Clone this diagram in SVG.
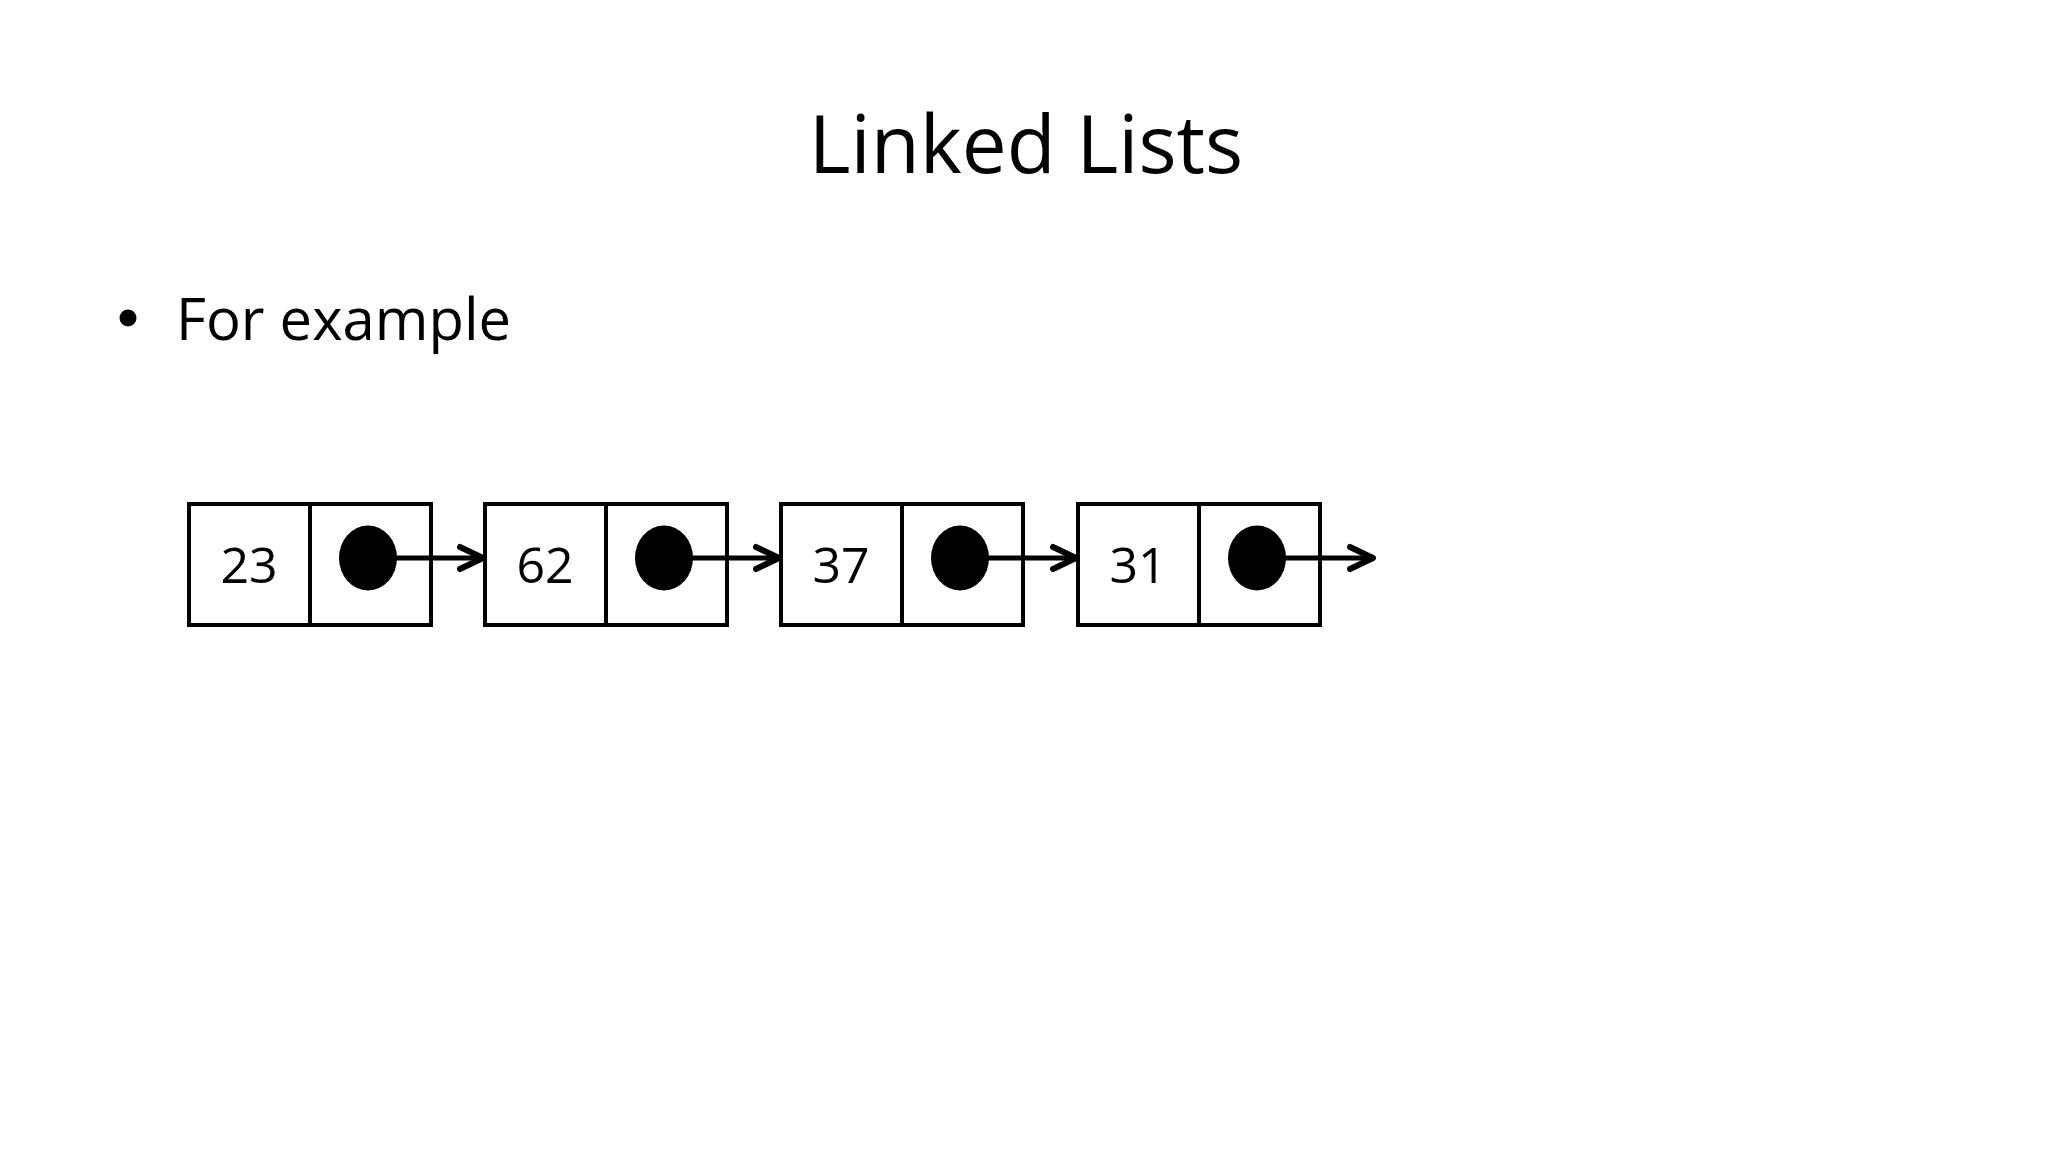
<svg xmlns="http://www.w3.org/2000/svg" width="2048" height="1152" viewBox="0 0 2048 1152">
<style>
.t{font-family:"Open Sans","Noto Sans","Liberation Sans",sans-serif;fill:#000}
.box{fill:#fff;stroke:#000;stroke-width:4}
.ln{stroke:#000;stroke-width:4;fill:none}
.cn{stroke:#000;stroke-width:5;fill:none}
.num{font-size:50px;text-anchor:middle}
</style>
<defs>
<marker id="arr" markerUnits="userSpaceOnUse" markerWidth="32" markerHeight="32" refX="26" refY="14" orient="auto" viewBox="0 0 32 28">
<path d="M3 3 L26 14 L3 25" fill="none" stroke="#000" stroke-width="6" stroke-linecap="round" stroke-linejoin="round"/>
</marker>
</defs>
<rect width="2048" height="1152" fill="#fff"/>
<text class="t" x="1026" y="173" font-size="80" text-anchor="middle">Linked Lists</text>
<circle cx="128" cy="318" r="8.5"/>
<text class="t" x="176" y="340" font-size="58">For example</text>
<g id="node1">
<rect class="box" x="189" y="504" width="242" height="121"/>
<line class="ln" x1="310" y1="504" x2="310" y2="625"/>
<text class="t num" x="249" y="583">23</text>
<ellipse cx="368" cy="558" rx="29" ry="32.5"/>
</g>
<g id="node2">
<rect class="box" x="485" y="504" width="242" height="121"/>
<line class="ln" x1="606" y1="504" x2="606" y2="625"/>
<text class="t num" x="545" y="583">62</text>
<ellipse cx="664" cy="558" rx="29" ry="32.5"/>
</g>
<g id="node3">
<rect class="box" x="781" y="504" width="242" height="121"/>
<line class="ln" x1="902" y1="504" x2="902" y2="625"/>
<text class="t num" x="841" y="583">37</text>
<ellipse cx="960" cy="558" rx="29" ry="32.5"/>
</g>
<g id="node4">
<rect class="box" x="1078" y="504" width="242" height="121"/>
<line class="ln" x1="1199" y1="504" x2="1199" y2="625"/>
<text class="t num" x="1138" y="583">31</text>
<ellipse cx="1257" cy="558" rx="29" ry="32.5"/>
</g>
<g id="connectors">
<line class="cn" x1="390" y1="558" x2="483" y2="558" marker-end="url(#arr)"/>
<line class="cn" x1="686" y1="558" x2="779" y2="558" marker-end="url(#arr)"/>
<line class="cn" x1="982" y1="558" x2="1076" y2="558" marker-end="url(#arr)"/>
<line class="cn" x1="1279" y1="558" x2="1373" y2="558" marker-end="url(#arr)"/>
</g>
</svg>
